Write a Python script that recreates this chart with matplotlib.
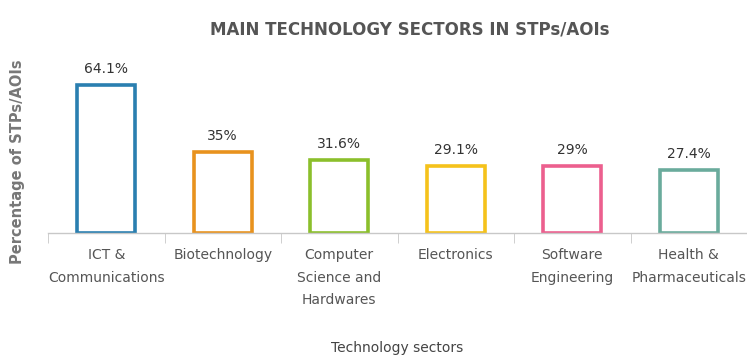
import matplotlib
matplotlib.use('Agg')
import matplotlib.pyplot as plt
import numpy as np

# sector shares (percent of STPs/AOIs)
sectors = ['ICT &\nCommunications', 'Biotechnology', 'Computer\nScience and\nHardwares',
           'Electronics', 'Software\nEngineering', 'Health &\nPharmaceuticals']
shares = [64.1, 35, 31.6, 29.1, 29, 27.4]
share_labels = ['64.1%', '35%', '31.6%', '29.1%', '29%', '27.4%']
bar_colors = ['#2a7fb0', '#e8921e', '#8bbf2b', '#f5c21b', '#ec5f8e', '#6aab9c']

plt.rcParams['font.family'] = ['DejaVu Sans']

fig = plt.figure(figsize=(7.47, 3.57), dpi=100)
ax = fig.add_axes([48/747, 124/357, 699/747, 173/357])

x = np.arange(len(sectors))
ax.bar(x, shares, width=0.5, facecolor='white', edgecolor=bar_colors, linewidth=2.6)

for xi, v, lab in zip(x, shares, share_labels):
    ax.text(xi, v + 4, lab, ha='center', va='bottom', fontsize=10, color='#333333')

ax.set_xlim(-0.5, 5.5)
ax.set_ylim(0, 75)
ax.set_yticks([])
for s in ['top', 'right', 'left']:
    ax.spines[s].set_visible(False)
ax.spines['bottom'].set_color('#c8c8c8')
ax.spines['bottom'].set_linewidth(1)

# category labels between boundary ticks
ax.set_xticks(x)
ax.set_xticklabels(sectors, fontsize=10, color='#555555', linespacing=1.75)
ax.tick_params(axis='x', which='major', length=0, pad=11)
ax.set_xticks(np.arange(-0.5, 6, 1), minor=True)
ax.tick_params(axis='x', which='minor', length=7, color='#c8c8c8', direction='out')

fig.text(410/747, 1 - 30/357, 'MAIN TECHNOLOGY SECTORS IN STPs/AOIs', ha='center', va='center',
         fontsize=12, fontweight='bold', color='#555555')
fig.text(18/747, 1 - 162/357, 'Percentage of STPs/AOIs', ha='center', va='center', rotation=90,
         fontsize=10.5, fontweight='bold', color='#777777')
fig.text(397/747, 1 - 348/357, 'Technology sectors', ha='center', va='center',
         fontsize=10, color='#444444')

fig.savefig('out.png', dpi=100)
